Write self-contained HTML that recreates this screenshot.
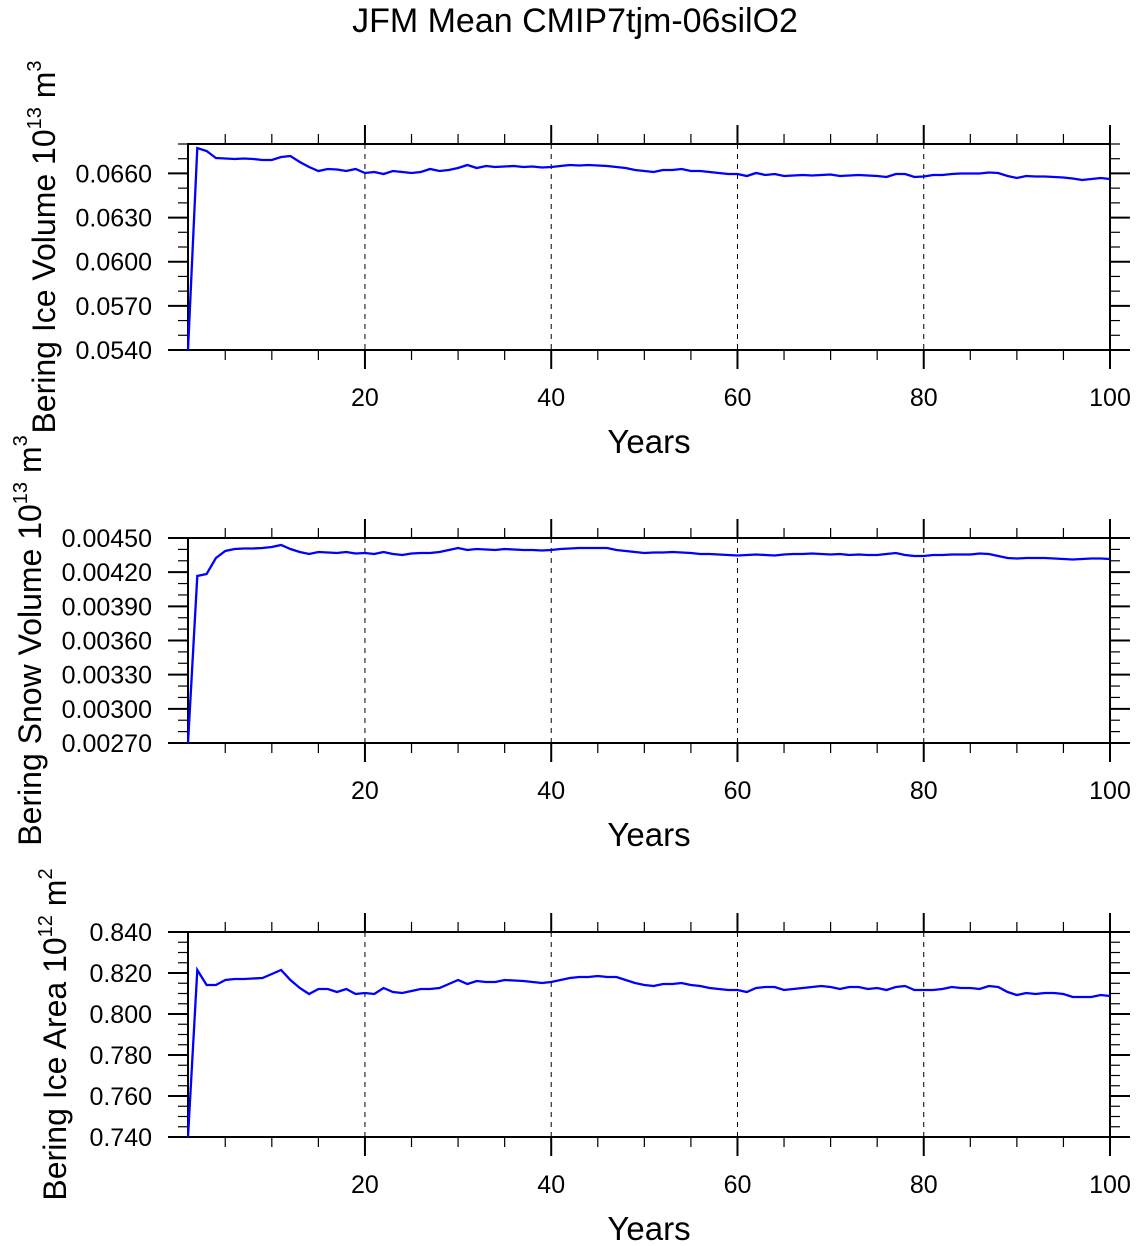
<!DOCTYPE html>
<html><head><meta charset="utf-8"><style>
html,body{margin:0;padding:0;background:#fff;}
svg{display:block;font-family:"Liberation Sans",Helvetica,sans-serif;}
</style></head><body>
<svg id="s" width="1136" height="1246" xmlns="http://www.w3.org/2000/svg"></svg>
<script>
const S=document.getElementById('s');
let h='';
h+='<text x="575" y="32" font-size="34" text-anchor="middle">JFM Mean CMIP7tjm-06silO2</text>';
const X0=188,X1=1110;
function xs(yr){return X0+(yr-1)*(X1-X0)/99;}
const P1=[350,148,151,158,158.5,159,158.5,159,160,160,157,156,162,167,171,169,169.5,171,169,173,172,174,171,172,173,172,169,171,170,168,165,168,166,167,166.5,166,167,166.5,167.5,167,166,165,165.5,165,165.5,166,167,168,170,171,172,170,170,169,171,171,172,173,174,174,176,173,175,174,176,175.5,175,175.5,175,174.5,176,175.5,175,175.5,176,177,174,174,177,176.5,175,175,174,173.5,173.5,173.5,172.5,173,176,178,176,176.5,176.5,177,177.5,178.5,180,179,178,179];
const P2=[743,576,574,558,551,549,548.5,548.5,548,547,545,549,552,554,552,552.5,553,552,553.5,553,554,552,554,555,553.5,553,553,552,550,548,550,549,549.5,550,549,549.5,550,550,550.5,550,549,548.5,548,548,548,548,550,551,552,553,552.5,552.5,552,552.5,553,554,554,554.5,555,555.5,555,554.5,555,555.5,554.5,554,554,553.5,554,554.5,554,555,554.5,555,555,554,553,555,556,556,555,555,554.5,554.5,554.5,553.5,554,556,558,558.5,558,558,558,558.5,559,559.5,559,558.5,558.5,559];
const P3=[1137,970,985,985,980,979,979,978.5,978,974,970,980,988,994,989,989,992,989,994,993,994,988,992,993,991,989,989,988,984,980,984,981,982,982,980,980.5,981,982,983,982,980,978,977,977,976,977,977,980,983,985,986,984,984,983,985,986,988,989,990,990,992,988,987,987,990,989,988,987,986,987,989,987,987,989,988,990,987,986,990,990,990,989,987,988,988,989,986,987,992,995,993,994,993,993,994,997,997,997,995,996];
const sup=(a,b)=>`Bering ${a} 10<tspan dy="-14" font-size="20">${b[0]}</tspan><tspan dy="14"> m</tspan><tspan dy="-14" font-size="20">${b[1]}</tspan>`;
const plots=[
 {top:144,bot:350,lo:0.054,hi:0.068,maj:0.003,min:0.001,dec:4,data:P1,lx:55,title:sup('Ice Volume',['13','3'])},
 {top:538,bot:743,lo:0.0027,hi:0.0045,maj:0.0003,min:0.0001,dec:5,data:P2,lx:41,title:sup('Snow Volume',['13','3'])},
 {top:932,bot:1137,lo:0.74,hi:0.84,maj:0.02,min:0.005,dec:3,data:P3,lx:66,title:sup('Ice Area',['12','2'])}
];
for(const p of plots){
 const ys=v=>p.bot-(v-p.lo)/(p.hi-p.lo)*(p.bot-p.top);
 for(let yr=20;yr<100;yr+=20){const x=xs(yr);h+=`<line x1="${x}" y1="${p.top}" x2="${x}" y2="${p.bot}" stroke="#000" stroke-width="1" stroke-dasharray="5,5"/>`;}
 for(let yr=5;yr<=100;yr+=5){const x=xs(yr);const L=yr%20==0?19:10;
  h+=`<line x1="${x}" y1="${p.top}" x2="${x}" y2="${p.top-L}" stroke="#000" stroke-width="${yr%20==0?2:1.2}"/>`;
  h+=`<line x1="${x}" y1="${p.bot}" x2="${x}" y2="${p.bot+L}" stroke="#000" stroke-width="${yr%20==0?2:1.2}"/>`;
  if(yr%20==0)h+=`<text x="${x}" y="${p.bot+56}" font-size="25" text-anchor="middle">${yr}</text>`;}
 const nmin=Math.round((p.hi-p.lo)/p.min);const r=Math.round(p.maj/p.min);
 for(let i=0;i<=nmin;i++){const v=p.lo+i*p.min;const y=ys(v);const mj=i%r==0;const L=mj?20:10;
  h+=`<line x1="${X0}" y1="${y}" x2="${X0-L}" y2="${y}" stroke="#000" stroke-width="${mj?2:1.2}"/>`;
  h+=`<line x1="${X1}" y1="${y}" x2="${X1+L}" y2="${y}" stroke="#000" stroke-width="${mj?2:1.2}"/>`;
  if(mj)h+=`<text x="152" y="${y+9}" font-size="25" text-anchor="end">${v.toFixed(p.dec)}</text>`;}
 h+=`<rect x="${X0}" y="${p.top}" width="${X1-X0}" height="${p.bot-p.top}" fill="none" stroke="#000" stroke-width="2"/>`;
 let pts=p.data.map((y,i)=>xs(i+1).toFixed(1)+','+y).join(' ');
 h+=`<polyline points="${pts}" fill="none" stroke="#0000ff" stroke-width="2.3"/>`;
 h+=`<text x="649" y="${p.bot+103}" font-size="33" text-anchor="middle">Years</text>`;
 const cy=(p.top+p.bot)/2;
 h+=`<text transform="translate(${p.lx},${cy}) rotate(-90)" font-size="32" text-anchor="middle">${p.title}</text>`;
}
S.innerHTML=h;
</script>
</body></html>
